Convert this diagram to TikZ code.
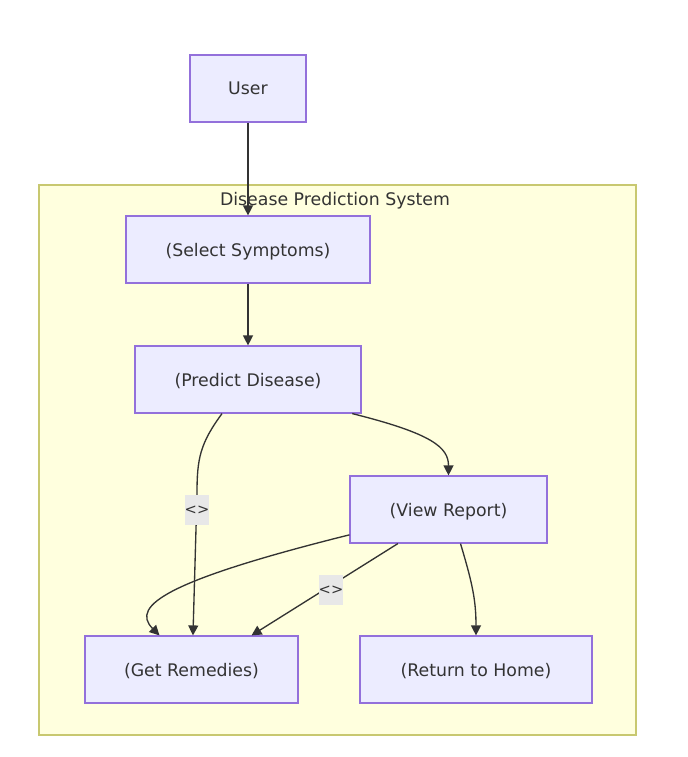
\documentclass[tikz,border=0pt]{standalone}
\usepackage{fontspec}
\setmainfont{DejaVu Sans}
\usetikzlibrary{arrows.meta}
\definecolor{nodefill}{HTML}{ECECFF}
\definecolor{nodeborder}{HTML}{9370DB}
\definecolor{clusterfill}{HTML}{FFFFDE}
\definecolor{clusterborder}{HTML}{C8C870}
\definecolor{edgecol}{HTML}{333333}
\definecolor{labelbg}{HTML}{E8E8E8}
\tikzset{
  box/.style={draw=nodeborder, fill=nodefill, line width=0.9pt, inner sep=0pt, text=edgecol, font=\fontsize{13}{15}\selectfont, text depth=0pt},
  edge/.style={draw=edgecol, line width=1pt, -{Triangle[length=7.5pt,width=7.5pt]}},
  elabel/.style={fill=labelbg, text=edgecol, inner sep=0pt, minimum width=15pt, minimum height=22pt, font=\fontsize{11}{12}\selectfont},
}
\begin{document}
\begin{tikzpicture}[x=0.75pt, y=-0.75pt]
\useasboundingbox (0,0) rectangle (687,757);
\fill[white] (0,0) rectangle (687,757);
% cluster
\draw[draw=clusterborder, fill=clusterfill, line width=1.2pt] (39,185) rectangle (636,735);
\node[text=edgecol, font=\fontsize{13}{15}\selectfont] (ctitle) at (335,201) {Disease Prediction System};
% nodes
\node[box, minimum width=87pt, minimum height=50.25pt] (user) at (248,88.5) {User};
\node[box, minimum width=183pt, minimum height=50.25pt] (sel) at (248,249.5) {(Select Symptoms)};
\node[box, minimum width=169.5pt, minimum height=50.25pt] (pd) at (248,379.5) {(Predict Disease)};
\node[box, minimum width=147.75pt, minimum height=50.25pt] (vr) at (448.5,509.5) {(View Report)};
\node[box, minimum width=159.75pt, minimum height=50.25pt] (gr) at (191.5,669.5) {(Get Remedies)};
\node[box, minimum width=174pt, minimum height=50.25pt] (rh) at (476,669.5) {(Return to Home)};
% edges
\draw[edge] (user) -- (sel);
\draw[edge] (sel) -- (pd);
\draw[edge] ([xshift=-19.5pt]pd.south) .. controls +(-22,30) and +(0,-35) .. ++(-25,80) -- ([xshift=1.1pt]gr.north);
\node[elabel] (l1) at (197,510) {<>};
\draw[edge] ([xshift=-7pt]pd.south east) .. controls +(80,20) and +(0,-28) .. (vr.north);
\draw[edge] ([yshift=-19pt]vr.west) .. controls +(-180,45) and +(-30,-30) .. ([xshift=-24pt]gr.north);
\draw[edge] ([xshift=-38pt]vr.south) -- ([xshift=45pt]gr.north);
\node[elabel] (l2) at (331,590) {<>};
\draw[edge] ([xshift=9pt]vr.south) .. controls +(12,40) and +(0,-35) .. (rh.north);
\end{tikzpicture}
\end{document}
